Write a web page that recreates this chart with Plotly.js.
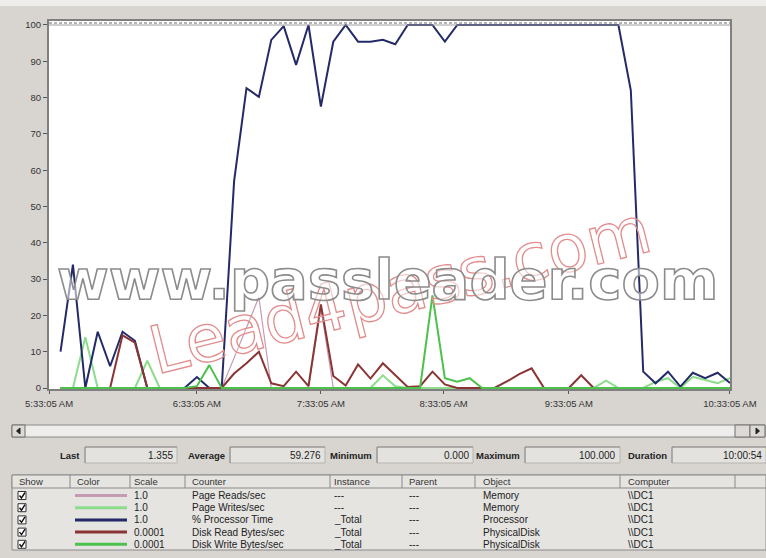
<!DOCTYPE html>
<html><head><meta charset="utf-8">
<script src="https://cdn.plot.ly/plotly-3.0.1.min.js"></script>
<style>
html,body{margin:0;padding:0;background:#d8d5d0;}
#chart{width:766px;height:558px;}
g.annotation[data-index="0"] text{fill:rgba(255,255,255,0.2)!important;stroke:#e38c8c;stroke-width:1.3px;}
g.annotation[data-index="1"] text{fill:rgba(255,255,255,0.55)!important;stroke:#8c8c8c;stroke-width:1.6px;}
</style></head><body><div id="chart"></div>
<script>
// ---------- data (one value per sample) ----------
const pageReads  = [0,0,0,0,0,0,0,0,0,0, 0,0,0,0,8.3,16.7,25,0,0,0, 0,22,0,0,0,0,0,0,0,0, 0,0,0,0,0,0,0,0,0,0, 0,0,0,0,0,0,0,0,0,0, 0,0,0,0,0];
const pageWrites = [0,0,14,0,0,0,0,7.5,0,0, 0,0,0,0,0,0,0,0,0,0, 0,0,0,0,0,0,3.5,0.5,0,0, 0,0,0,0,0,0,0,0,0,0, 0,0,0,0,2,0,0,0,1.7,2.7, 0,3.1,2.2,1.3,2.7];
const processor  = [10,34,0,15.5,6,15.5,13,0,0,0, 0,3,0,0,57,82.6,80.2,95.9,99.7,89, 100,77.5,95.4,100,95.4,95.4,95.9,94.7,100,100, 100,95.4,100,100,100,100,100,100,100,100, 100,100,100,100,100,100,82,4.5,1.3,4.5, 0.4,4.2,2.7,4.2,1.4];
const diskRead   = [0,0,0,0,0,14.5,12.5,0,0,0, 0,0,0,0,4,6.8,10,1.3,0.5,4.5, 0.5,23,3.3,0.7,6.5,2.6,6.8,3.5,0.3,0.5, 4.5,1,0,0,0,0,1.8,3.8,5.4,0, 0,0,3.5,0,0,0,0,0,0,0, 0,0,0,0,0];
const diskWrite  = [0,0,0,0,0,0,0,0,0,0, 0,0.5,6.3,0,0,0,0,0,0,0, 0,0,0,0,0,0,0,0,0,0, 25.5,2.7,1.7,2.7,0,0,0,0,0,0, 0,0,0,0,0,0,0,0,0,0, 0,0,0,0,0];

const counters  = ['Page Reads/sec','Page Writes/sec','% Processor Time','Disk Read Bytes/sec','Disk Write Bytes/sec'];
const scales    = ['1.0','1.0','1.0','0.0001','0.0001'];
const instances = ['---','---','_Total','_Total','_Total'];
const parents   = ['---','---','---','---','---'];
const objects   = ['Memory','Memory','Processor','PhysicalDisk','PhysicalDisk'];
const computers = ['\\\\DC1','\\\\DC1','\\\\DC1','\\\\DC1','\\\\DC1'];
const colors    = ['#c49bb5','#8cdc8c','#242a68','#8a3434','#4cc24c'];
const widths    = [1.2,2,2,2,2];

const xTickVals   = [-0.925, 11, 21, 30.9, 41, 53.995];
const xTickLabels = ['5:33:05 AM','6:33:05 AM','7:33:05 AM','8:33:05 AM','9:33:05 AM','10:33:05 AM'];

const statLabels = ['Last','Average','Minimum','Maximum','Duration'];
const statValues = ['1.355','59.276','0.000','100.000','10:00:54'];
const headers    = ['Show','Color','Scale','Counter','Instance','Parent','Object','Computer'];

// ---------- geometry helpers ----------
const FONT = 'Liberation Sans, Arial, sans-serif';
const L=49, R=730, T=21, B=389;
const px = x => (x-L)/(R-L);
const py = y => (B-y)/(B-T);
const shapes=[], anns=[];
function rect(x0,y0,x1,y1,fill,line,lw){shapes.push({type:'rect',xref:'paper',yref:'paper',x0:px(x0),x1:px(x1),y0:py(y1),y1:py(y0),fillcolor:fill,line:{color:line||'rgba(0,0,0,0)',width:lw==null?1:lw},layer:'above'});}
function seg(x0,y0,x1,y1,color,w,dash){shapes.push({type:'line',xref:'paper',yref:'paper',x0:px(x0),x1:px(x1),y0:py(y0),y1:py(y1),line:{color:color,width:w||1,dash:dash||'solid'},layer:'above'});}
function path(pts,fill,line,lw,close){let d=pts.map((p,i)=>(i?'L':'M')+px(p[0])+','+py(p[1])).join(' ')+(close?' Z':'');shapes.push({type:'path',xref:'paper',yref:'paper',path:d,fillcolor:fill||'rgba(0,0,0,0)',line:{color:line||'rgba(0,0,0,0)',width:lw||1},layer:'above'});}
function ann(x,y,text,o){o=o||{};anns.push({xref:'paper',yref:'paper',x:px(x),y:py(y),text:text,showarrow:false,xanchor:o.xa||'left',yanchor:'middle',textangle:o.angle||0,borderpad:0,font:{family:o.family||FONT,size:o.size||10,color:o.color||'#222'}});}

// watermarks (indices 0 and 1, styled by CSS)
ann(400,290,'Lead4pass.com',{xa:'center',size:66,family:'DejaVu Sans',angle:-14,color:'#e38c8c'});
ann(387,279,'<b>www.passleader.com</b>',{xa:'center',size:56,family:'DejaVu Sans',color:'#ffffff'});

// top hatched band of the graph
seg(49,25,730,25,'#a0a0a0',1);
seg(49,23,730,23,'#b4b4b4',2,'3px,2px');

// top light strip of the window
rect(0,0,766,6,'#eeedeb');

// scrollbar
rect(12,425,765,437,'#eeedeb','#8a8a8a',1);
rect(12,425,25,437,'#dddad5','#6e6e6e',1);
path([[20,428],[20,434],[16.5,431]],'#222','#222',1,true);
rect(735,425,750,437,'#dddad5','#6e6e6e',1);
rect(750,425,765,437,'#dddad5','#6e6e6e',1);
path([[756,428],[756,434],[759.5,431]],'#222','#222',1,true);

// statistics row
const boxes=[[85,177],[230,325],[377,473],[525,620],[672,766]];
for(let i=0;i<statLabels.length;i++){
  const b=boxes[i];
  rect(b[0],447,b[1],463,'#e4e2de','#b8b6b2',1);
  seg(b[0],447,b[1],447,'#8a8a8a',1);
  seg(b[0],447,b[0],463,'#8a8a8a',1);
  ann(b[0]-4,455,'<b>'+statLabels[i]+'</b>',{xa:'right',size:9.5});
  ann(b[1]-3,455,statValues[i],{xa:'right',size:10});
}

// counter table
rect(12,475,766,550,'#e5e4e1','#8a8a8a',1);
rect(12,475,766,488,'#e5e4e1','#8a8a8a',1);
const seps=[70,130,185,330,402,475,620,735];
seps.forEach(s=>seg(s,475,s,488,'#8a8a8a',1));
const hx=[18,76,133,191,333,408,482,627];
headers.forEach((h,i)=>ann(hx[i],481.5,h,{size:9.5,color:'#333'}));
for(let i=0;i<counters.length;i++){
  const y=495.5+12.2*i;
  rect(18,y-4,26,y+4,'#ffffff','#333333',1);
  path([[19.5,y],[21.5,y+2.5],[25,y-3]],null,'#111',1.4,false);
  seg(75,y,127,y,colors[i],3);
  ann(133,y,scales[i]);
  ann(191,y,counters[i]);
  ann(333,y,instances[i]);
  ann(408,y,parents[i]);
  ann(482,y,objects[i]);
  ann(627,y,computers[i]);
}

// ---------- traces ----------
const series=[pageReads,pageWrites,processor,diskRead,diskWrite];
const idx = pageReads.map((_,i)=>i);
const traces = series.map((s,k)=>({x:idx,y:s,type:'scatter',mode:'lines',name:counters[k],line:{color:colors[k],width:widths[k]},hoverinfo:'skip'}));

const layout={
  width:766,height:558,
  margin:{l:L,r:766-R,t:T,b:558-B},
  paper_bgcolor:'#d8d5d0',plot_bgcolor:'#ffffff',
  showlegend:false,
  font:{family:FONT,color:'#333'},
  xaxis:{range:[-0.93,54.0],tickvals:xTickVals,ticktext:xTickLabels,ticks:'outside',ticklen:3,tickcolor:'#555',
         showline:true,linecolor:'#808080',linewidth:2,mirror:true,showgrid:false,zeroline:false,
         tickfont:{family:FONT,size:9.5,color:'#333'},ticklabelstandoff:2},
  yaxis:{range:[-0.275,101.1],tick0:0,dtick:10,ticks:'outside',ticklen:4,tickcolor:'#555',
         showline:true,linecolor:'#808080',linewidth:2,mirror:true,showgrid:false,zeroline:false,
         tickfont:{family:FONT,size:9.5,color:'#333'}},
  shapes:shapes,annotations:anns
};
Plotly.newPlot('chart',traces,layout,{staticPlot:true,displayModeBar:false});
</script></body></html>
